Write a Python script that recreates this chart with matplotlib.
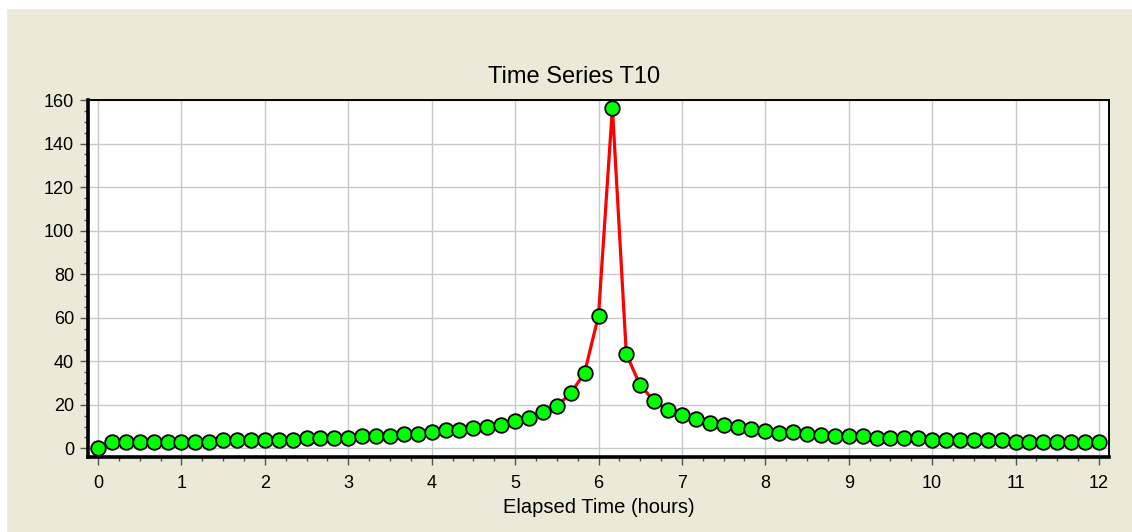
import numpy as np
import matplotlib
matplotlib.use("Agg")
import matplotlib.pyplot as plt
from matplotlib.ticker import MultipleLocator
from matplotlib.patches import Rectangle

hours = [i / 6 for i in range(73)]
values = [0.3, 3.0, 3.0, 3.0, 3.0, 3.1, 3.0, 3.1, 3.0, 3.8,
          4.0, 4.0, 4.0, 4.0, 4.0, 4.6, 4.8, 4.8, 4.6, 5.5,
          5.5, 5.6, 6.4, 6.5, 7.3, 8.3, 8.3, 9.1, 9.8, 10.9,
          12.6, 14.1, 16.7, 19.4, 25.2, 34.7, 61.0, 156.5, 43.3, 28.9,
          21.8, 17.5, 15.1, 13.3, 11.5, 10.5, 9.8, 8.9, 8.0, 7.2,
          7.4, 6.5, 6.3, 5.5, 5.5, 5.5, 4.6, 4.7, 4.6, 4.7,
          3.8, 3.8, 3.8, 3.8, 3.8, 3.8, 2.9, 2.9, 2.9, 2.9,
          2.9, 2.9, 2.9]
title = "Time Series T10"
xlabel = "Elapsed Time (hours)"

plt.rcParams['font.family'] = ['Liberation Sans', 'DejaVu Sans']
bg = '#ECE9D8'
W, H = 1132, 532
fig = plt.figure(figsize=(W / 100, H / 100), dpi=100, facecolor=bg)
# white margin strips at top and left
fig.patches.append(Rectangle((0, 0), 6 / W, 1, transform=fig.transFigure, color='white', zorder=0))
fig.patches.append(Rectangle((0, 1 - 8 / H), 1, 8 / H, transform=fig.transFigure, color='white', zorder=0))

ax = fig.add_axes([88 / W, 1 - 457 / H, (1109 - 88) / W, (457 - 100) / H])
ax.set_facecolor('white')
ax.plot(hours, values, color='#FF0000', lw=2.3, zorder=3,
        marker='o', markersize=10.5, markerfacecolor='#00FF00',
        markeredgecolor='black', markeredgewidth=1.3)
ax.set_xlim(-0.12, 12.12)
ax.set_ylim(-4, 160)
ax.xaxis.set_major_locator(MultipleLocator(1))
ax.xaxis.set_minor_locator(MultipleLocator(0.25))
ax.yaxis.set_major_locator(MultipleLocator(20))
ax.yaxis.set_minor_locator(MultipleLocator(5))
ax.grid(True, which='major', color='#C8C8C8', lw=1.0, zorder=0)
ax.set_axisbelow(True)
for s in ['left', 'bottom']:
    ax.spines[s].set_linewidth(2.6)
for s in ['top', 'right']:
    ax.spines[s].set_linewidth(1.4)
ax.tick_params(which='major', length=6, width=1, color='#555555', labelsize=13, pad=4)
ax.tick_params(axis='x', which='major', pad=7)
ax.tick_params(which='minor', length=3, width=1, color='#555555')
fig.text(574 / W, 1 - 83 / H, title, fontsize=17, ha='center', va='baseline')
fig.text(599 / W, 1 - 513 / H, xlabel, fontsize=14.5, ha='center', va='baseline')
fig.savefig('out.png', dpi=100, facecolor=bg)
